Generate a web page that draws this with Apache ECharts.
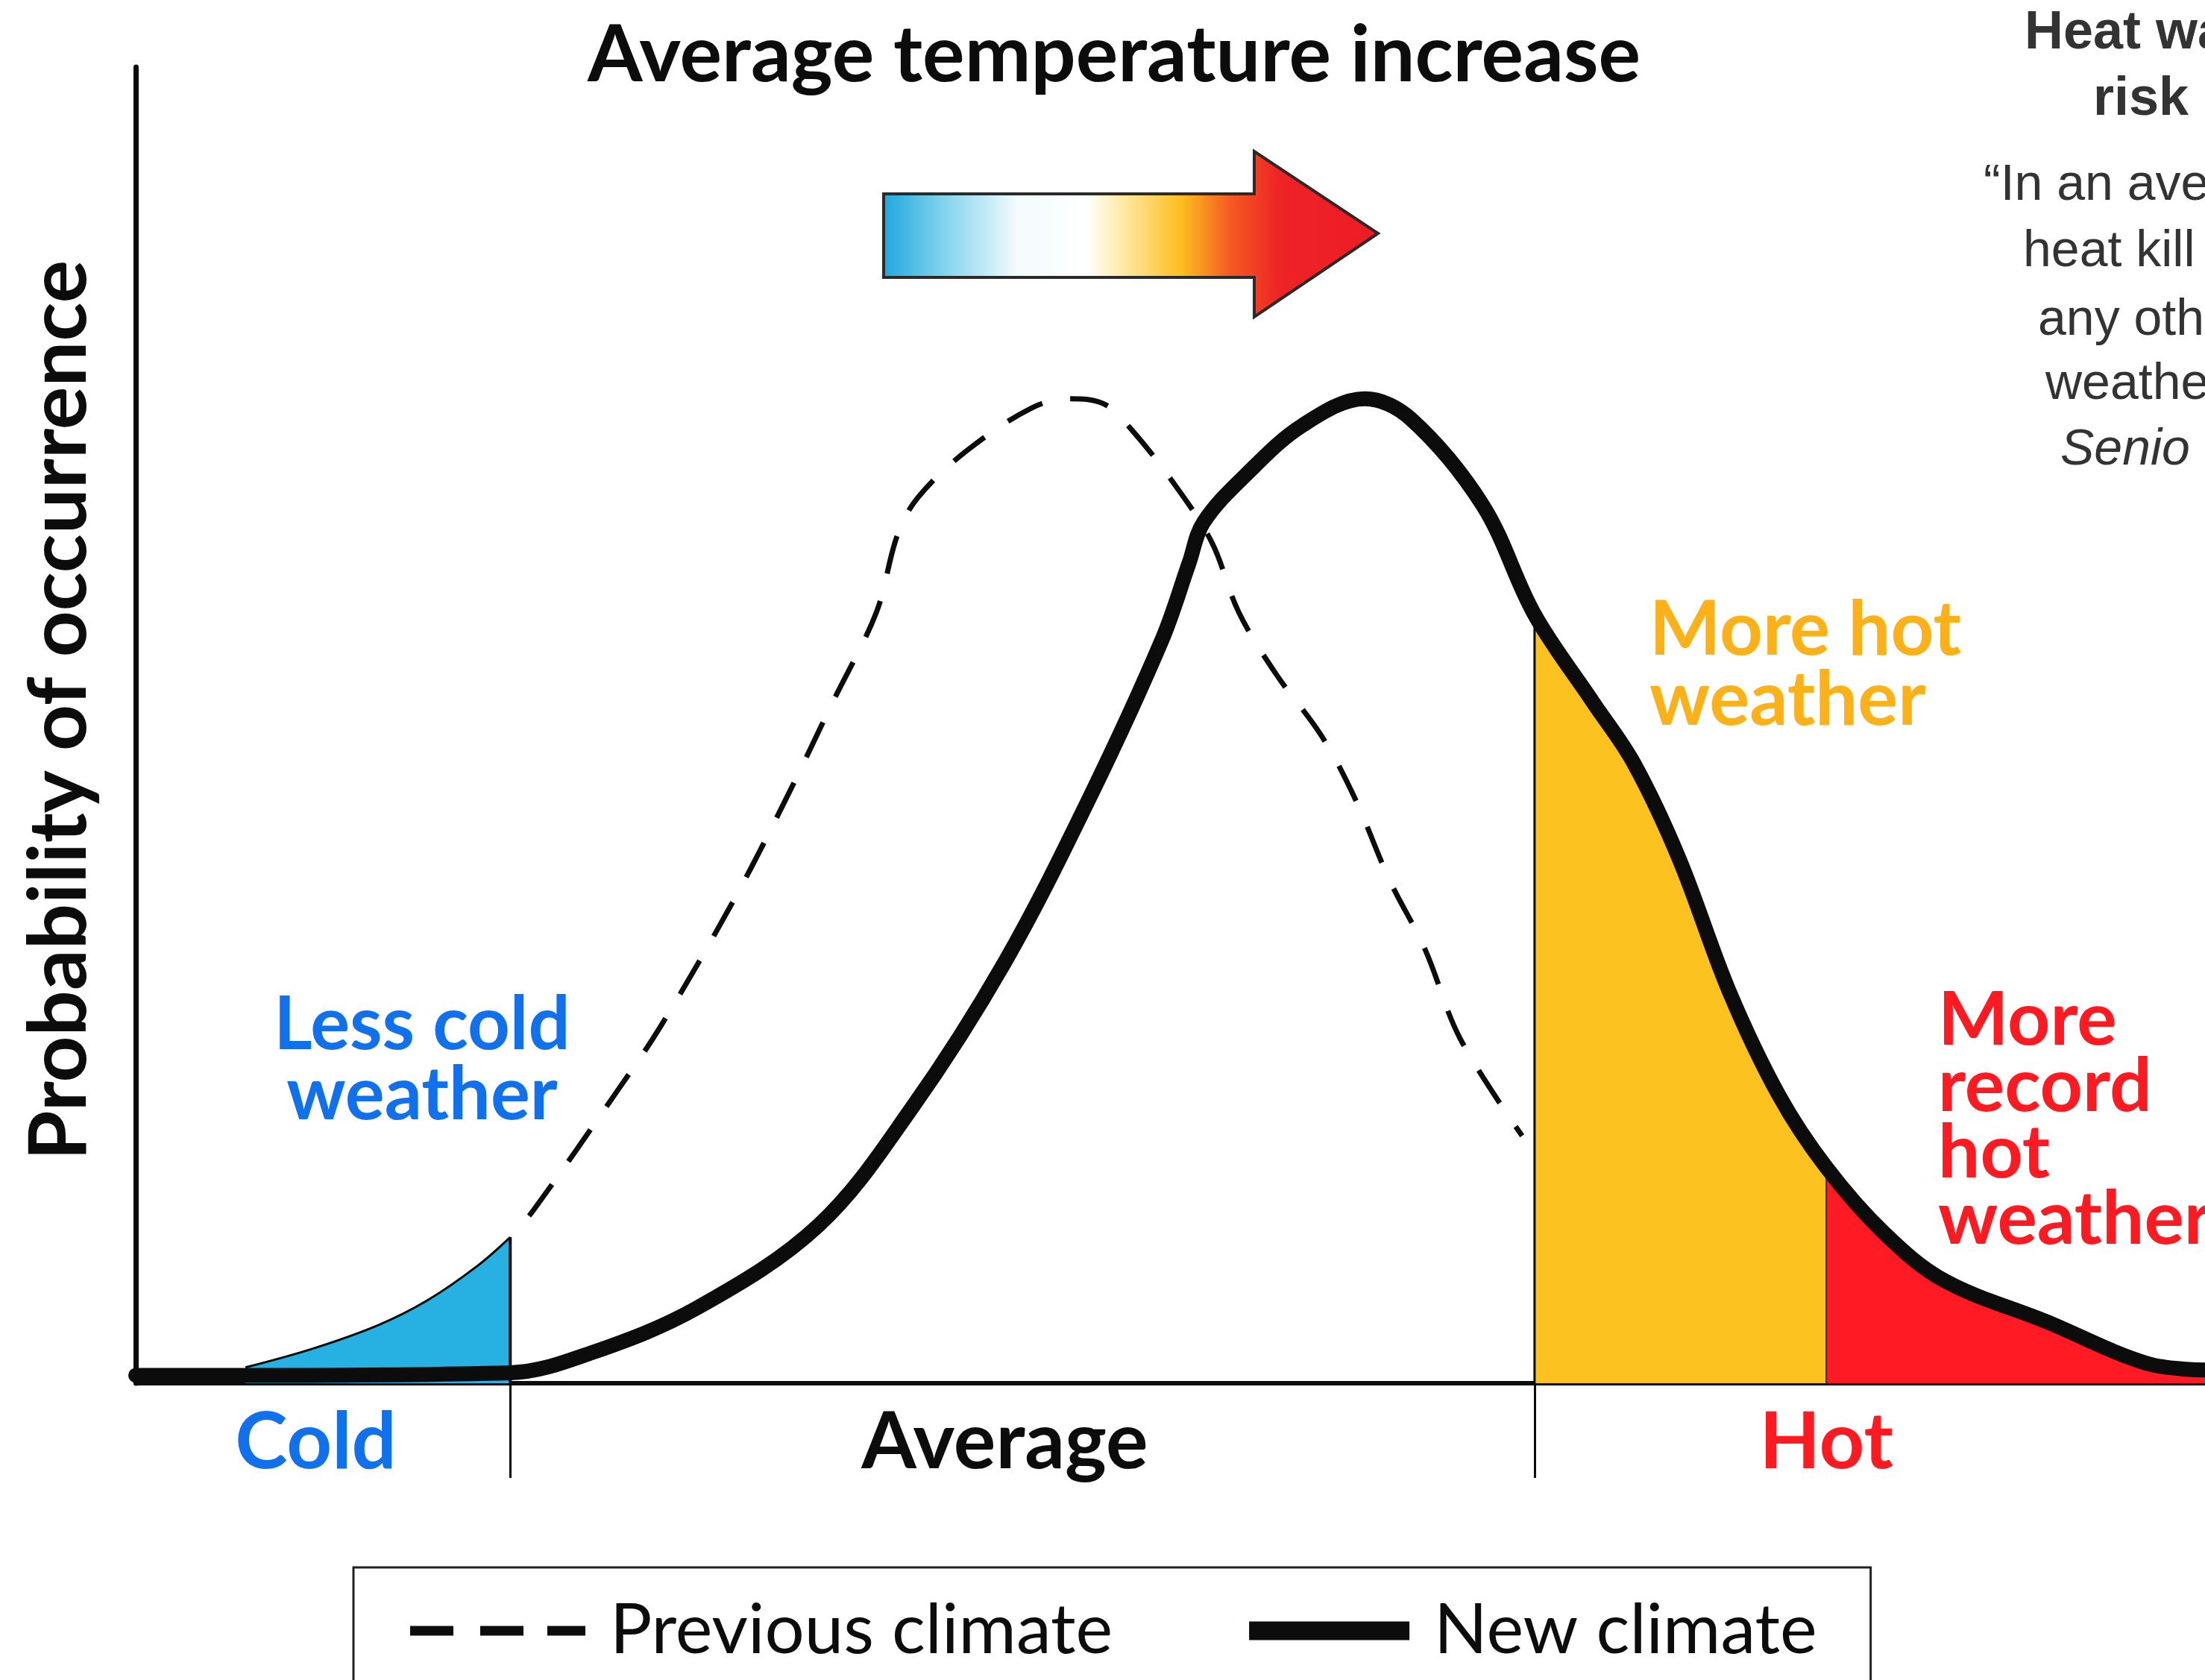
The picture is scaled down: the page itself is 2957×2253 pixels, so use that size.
<!DOCTYPE html>
<html>
<head>
<meta charset="utf-8">
<script src="https://cdn.jsdelivr.net/npm/echarts@6/dist/echarts.min.js"></script>
<style>
html,body{margin:0;padding:0;background:#fff;}
#chart{width:2957px;height:2253px;}
</style>
</head>
<body>
<div id="chart"></div>
<script>
// ---- data (temperature index 0-100 on x, probability 0-100 on y) ----
const COLD_X = 18.1;
const HOT_X = 67.6;
const RECORD_X = 81.7;

const newClimateX = [0, 5.3, 18.1, 22.0, 27.1, 33.0, 37.5, 42.0, 46.1, 49.6, 50.9, 51.6, 53.7, 56.4, 59.4, 61.6, 65.1, 67.6, 70.4, 72.4, 74.6, 77.0, 79.4, 81.7, 84.5, 87.4, 92.3, 97.2, 100];
const newClimateY = [0.6, 0.6, 0.8, 2.3, 5.7, 12.0, 20.9, 32.0, 44.5, 56.5, 62.3, 65.4, 69.1, 72.8, 74.8, 73.3, 66.7, 58.4, 51.8, 47.1, 39.8, 29.8, 21.9, 16.4, 11.4, 7.8, 4.7, 1.5, 1.0];

const prevClimateX = [5.3, 8.5, 11.7, 14.1, 16.5, 18.1, 19.2, 23.4, 25.4, 28.9, 31.3, 33.7, 35.8, 36.8, 37.8, 40.2, 43.3, 45.1, 46.8, 48.1, 50.2, 52.0, 53.3, 55.1, 57.3, 58.9, 60.6, 62.3, 64.0, 67.0];
const prevClimateY = [1.2, 2.6, 4.4, 6.3, 8.9, 11.1, 13.1, 22.5, 27.2, 36.7, 44.0, 51.8, 58.6, 64.4, 67.3, 70.9, 74.1, 74.8, 74.4, 72.5, 68.3, 63.9, 58.6, 53.9, 49.2, 44.5, 38.2, 33.0, 26.2, 18.8];

const zoneLabels = ['Cold', 'Average', 'Hot'];
const zoneLabelX = [8.7, 42.0, 81.7];
const zoneTickX = [COLD_X, HOT_X];

const seriesNames = ['Previous climate', 'New climate'];
const titleText = 'Average temperature increase';
const yAxisName = 'Probability of occurrence';
const lessColdLines = ['Less cold', 'weather'];
const moreHotLines = ['More hot', 'weather'];
const recordLines = ['More', 'record', 'hot', 'weather'];
const sideHeading = ['Heat wa', 'risk'];
const sideQuote = ['\u201CIn an ave', 'heat kill', 'any oth', 'weathe'];
const sideSource = 'Senio';

// ---- colours ----
const C_BLUE_FILL = '#27B1E3';
const C_ORANGE_FILL = '#FCC21F';
const C_RED_FILL = '#FF1A24';
const C_BLUE_TEXT = '#1170EC';
const C_ORANGE_TEXT = '#FBB117';
const C_RED_TEXT = '#FF1A22';
const C_INK = '#0c0c0c';

// ---- helpers building library data from the arrays ----
const pairs = (xs, ys) => xs.map((x, i) => [x, ys[i]]);
const newPairs = pairs(newClimateX, newClimateY);
const prevPairs = pairs(prevClimateX, prevClimateY);
const valueAt = (xs, ys, x) => ys[xs.indexOf(x)];

const blueArea = prevPairs.filter(p => p[0] <= COLD_X);
const dashedPrev = prevPairs.filter(p => p[0] >= COLD_X);
const orangeArea = newPairs.filter(p => p[0] >= HOT_X && p[0] <= RECORD_X);
const redArea = newPairs.filter(p => p[0] >= RECORD_X);

const SMOOTH = 0.35;

const DASH_ICON = 'path://M0,0h0.2v0.2h-0.2z M235,25h-0.2v-0.2h0.2z M0,6h58v13h-58z M94,6h58v13h-58z M184,6h51v13h-51z';
const SOLID_ICON = 'path://M0,0h0.2v0.2h-0.2z M20,0h215v25h-215z';

const chart = echarts.init(document.getElementById('chart'), null, {renderer: 'canvas'});

function textLines(lines, x, yMid, size, lh, color, align) {
  return {
    type: 'text', x: x, y: yMid, silent: true,
    style: {
      text: lines.join('\n'), fill: color, align: align, verticalAlign: 'middle',
      font: 'bold ' + size + 'px Lato',
      lineHeight: lh
    }
  };
}
function sideText(str, x, y, font) {
  return {type: 'text', x: x, y: y, silent: true,
    style: {text: str, fill: '#333', align: 'left', verticalAlign: 'middle', font: font}};
}

const option = {
  backgroundColor: '#ffffff',
  animation: false,
  title: {
    text: titleText,
    left: 783, top: 17,
    textStyle: {fontFamily: 'Lato', fontWeight: 'bold', fontSize: 106, color: C_INK}
  },
  grid: {left: 182, right: 0, top: 90, bottom: 398, containLabel: false},
  xAxis: {
    type: 'value', min: 0, max: 100,
    splitLine: {show: false},
    axisLine: {show: true, lineStyle: {color: C_INK, width: 6}},
    axisTick: {show: true, customValues: zoneTickX, length: 127, inside: false, lineStyle: {color: C_INK, width: 3}},
    axisLabel: {
      show: true,
      customValues: zoneLabelX,
      margin: 80,
      verticalAlign: 'middle',
      fontFamily: 'Lato', fontWeight: 'bold', fontSize: 106,
      formatter: function (v) {
        const i = zoneLabelX.findIndex(z => Math.abs(z - v) < 1e-6);
        return '{z' + i + '|' + zoneLabels[i] + '}';
      },
      rich: {
        z0: {color: C_BLUE_TEXT, fontFamily: 'Lato', fontWeight: 'bold', fontSize: 106},
        z1: {color: C_INK, fontFamily: 'Lato', fontWeight: 'bold', fontSize: 106},
        z2: {color: C_RED_TEXT, fontFamily: 'Lato', fontWeight: 'bold', fontSize: 106}
      }
    }
  },
  yAxis: {
    type: 'value', min: 0, max: 100,
    splitLine: {show: false},
    axisLine: {show: true, lineStyle: {color: C_INK, width: 7}},
    axisTick: {show: false},
    axisLabel: {show: false},
    name: yAxisName,
    nameLocation: 'middle',
    nameRotate: 90,
    nameGap: 48,
    nameTextStyle: {fontFamily: 'Lato', fontWeight: 'bold', fontSize: 108, color: C_INK, padding: [0, 0, 0, 40]}
  },
  legend: {
    show: true,
    left: 474, top: 2102,
    orient: 'horizontal',
    padding: [35, 72, 120, 76],
    itemWidth: 235, itemHeight: 25,
    itemGap: 163,
    borderColor: '#222', borderWidth: 3,
    backgroundColor: '#fff',
    selectedMode: false,
    itemStyle: {borderWidth: 0},
    textStyle: {fontFamily: 'Lato', fontSize: 94, color: C_INK, padding: [0, 0, 0, 28], lineHeight: 100},
    data: [
      {name: seriesNames[0], icon: DASH_ICON, itemStyle: {color: C_INK, borderWidth: 0}},
      {name: seriesNames[1], icon: SOLID_ICON, itemStyle: {color: C_INK, borderWidth: 0}}
    ]
  },
  series: [
    {
      name: 'cold-area', type: 'line', data: blueArea, smooth: SMOOTH, symbol: 'none', silent: true, z: 1,
      lineStyle: {color: C_INK, width: 3}, areaStyle: {color: C_BLUE_FILL, opacity: 1}
    },
    {
      name: 'hot-area', type: 'line', data: orangeArea, smooth: SMOOTH, symbol: 'none', silent: true, z: 1,
      lineStyle: {width: 0}, areaStyle: {color: C_ORANGE_FILL, opacity: 1}
    },
    {
      name: 'record-area', type: 'line', data: redArea, smooth: SMOOTH, symbol: 'none', silent: true, z: 1,
      lineStyle: {width: 0}, areaStyle: {color: C_RED_FILL, opacity: 1}
    },
    {
      name: 'cold-divider', type: 'line', symbol: 'none', silent: true, z: 2,
      data: [[COLD_X, 0], [COLD_X, valueAt(prevClimateX, prevClimateY, COLD_X)]],
      lineStyle: {color: C_INK, width: 4}
    },
    {
      name: 'hot-divider', type: 'line', symbol: 'none', silent: true, z: 2,
      data: [[HOT_X, 0], [HOT_X, valueAt(newClimateX, newClimateY, HOT_X)]],
      lineStyle: {color: C_INK, width: 3}
    },
    {
      name: 'record-divider', type: 'line', symbol: 'none', silent: true, z: 2,
      data: [[RECORD_X, 0], [RECORD_X, valueAt(newClimateX, newClimateY, RECORD_X)]],
      lineStyle: {color: '#3b2d10', width: 2}
    },
    {
      name: seriesNames[0], type: 'line', data: dashedPrev, smooth: SMOOTH, symbol: 'none', z: 3,
      itemStyle: {color: C_INK},
      lineStyle: {color: C_INK, width: 7, type: [52, 38], dashOffset: 52}
    },
    {
      name: seriesNames[1], type: 'line', data: newPairs, smooth: SMOOTH, symbol: 'none', z: 4,
      itemStyle: {color: C_INK},
      lineStyle: {color: C_INK, width: 20, join: 'round', cap: 'round'}
    }
  ],
  graphic: [
    {
      type: 'polygon', silent: true, z: 10,
      shape: {points: [[1185, 260], [1682, 260], [1682, 203], [1848, 313], [1682, 425], [1682, 372], [1185, 372]]},
      style: {
        stroke: '#2a2a2a', lineWidth: 4,
        fill: new echarts.graphic.LinearGradient(0, 0, 1, 0, [
          {offset: 0, color: '#1FA6DE'},
          {offset: 0.12, color: '#7FD2EC'},
          {offset: 0.27, color: '#F2FBFD'},
          {offset: 0.41, color: '#FFFFFF'},
          {offset: 0.48, color: '#FEEBA8'},
          {offset: 0.60, color: '#FCBF1E'},
          {offset: 0.70, color: '#F55A22'},
          {offset: 0.80, color: '#EE2326'},
          {offset: 1, color: '#ED1C24'}
        ])
      }
    },
    textLines(lessColdLines, 566, 1422, 99, 94, C_BLUE_TEXT, 'center'),
    textLines(moreHotLines, 2212, 892, 101, 94, C_ORANGE_TEXT, 'left'),
    textLines(recordLines, 2599, 1502, 100, 89, C_RED_TEXT, 'left'),
    sideText(sideHeading[0], 2715, 45, 'bold 72px "Liberation Sans"'),
    sideText(sideHeading[1], 2807, 134, 'bold 72px "Liberation Sans"'),
    sideText(sideQuote[0], 2660, 249, 'normal 68px "Liberation Sans"'),
    sideText(sideQuote[1], 2713, 338, 'normal 68px "Liberation Sans"'),
    sideText(sideQuote[2], 2733, 430, 'normal 68px "Liberation Sans"'),
    sideText(sideQuote[3], 2743, 516, 'normal 68px "Liberation Sans"'),
    sideText(sideSource, 2763, 604, 'italic normal 68px "Liberation Sans"')
  ]
};
chart.setOption(option);
</script>
</body>
</html>
